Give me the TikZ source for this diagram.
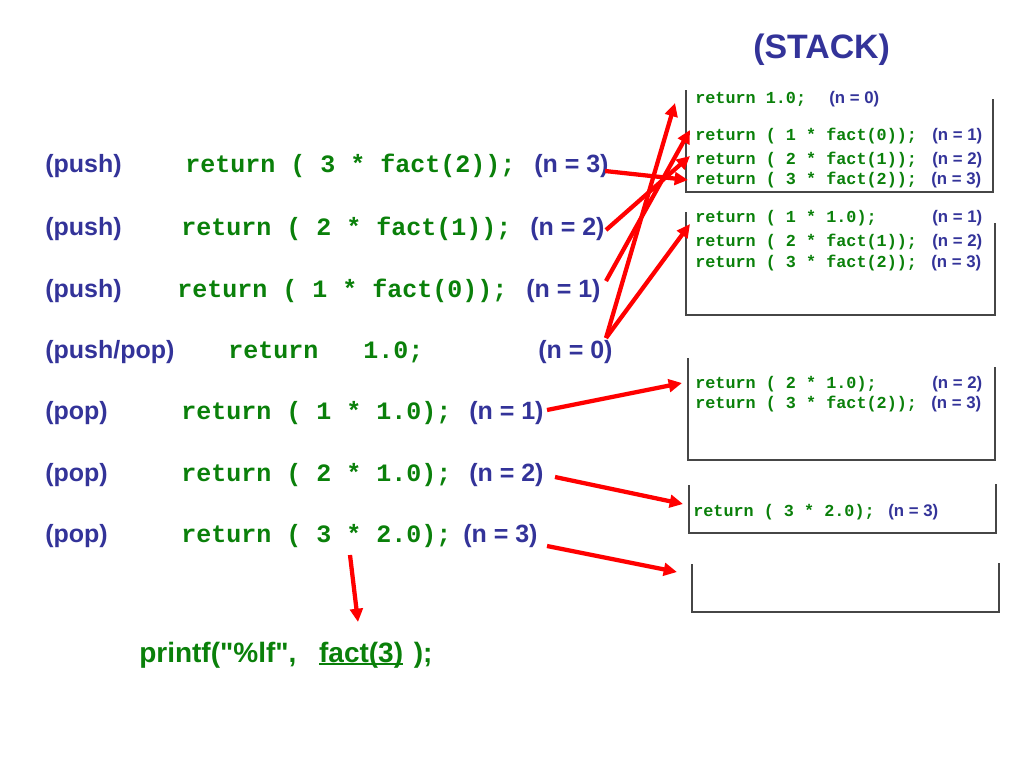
\documentclass[tikz,border=0pt]{standalone}
\usepackage{fontspec}
\setmainfont{Liberation Sans}
\newfontfamily\codefont{Liberation Mono}
\newfontfamily\pffont[Ligatures=TeXOff]{Liberation Sans}
\usetikzlibrary{arrows.meta}
\definecolor{navy}{RGB}{51,51,153}
\definecolor{codegreen}{RGB}{10,128,10}
\definecolor{arrred}{RGB}{255,0,0}
\definecolor{boxgray}{RGB}{70,70,70}
\newcommand\myul[1]{\setbox0\hbox{#1}\rlap{\rule[-2.4pt]{\wd0}{1.4pt}}\box0}
\begin{document}
\begin{tikzpicture}[x=0.75pt,y=-0.75pt,
  lbl/.style={anchor=base west, inner sep=0pt, text=navy, font=\fontsize{18.75}{20}\selectfont\bfseries},
  code/.style={anchor=base west, inner sep=0pt, text=codegreen, font=\fontsize{18.75}{20}\selectfont\codefont\bfseries},
  slbl/.style={anchor=base west, inner sep=0pt, text=navy, font=\fontsize{12.6}{14}\selectfont\bfseries},
  scode/.style={anchor=base west, inner sep=0pt, text=codegreen, font=\fontsize{12.6}{14}\selectfont\codefont\bfseries},
  arr/.style={draw=arrred, line width=3.2pt, -{Triangle[length=10pt,width=9.5pt]}},
  stackbox/.style={draw=boxgray, line width=1.4pt},
]
\useasboundingbox (0,0) rectangle (1024,768);

% title
\node[anchor=base west, inner sep=0pt, text=navy, font=\fontsize{25.4}{28}\selectfont\bfseries] (stack) at (753,58) {(STACK)};

% left column
\node[lbl] (op1) at (45,172) {(push)};
\node[code] (code1) at (185,172) {return ( 3 * fact(2));};
\node[lbl] (nv1) at (534,172) {(n = 3)};

\node[lbl] (op2) at (45,235) {(push)};
\node[code] (code2) at (181,235) {return ( 2 * fact(1));};
\node[lbl] (nv2) at (530,235) {(n = 2)};

\node[lbl] (op3) at (45,297) {(push)};
\node[code] (code3) at (177,297) {return ( 1 * fact(0));};
\node[lbl] (nv3) at (526,297) {(n = 1)};

\node[lbl] (op4) at (45,358) {(push/pop)};
\node[code] (code4) at (228,358) {return~~~1.0;};
\node[lbl] (nv4) at (538,358) {(n = 0)};

\node[lbl] (op5) at (45,419) {(pop)};
\node[code] (code5) at (181,419) {return ( 1 * 1.0);};
\node[lbl] (nv5) at (469,419) {(n = 1)};

\node[lbl] (op6) at (45,481) {(pop)};
\node[code] (code6) at (181,481) {return ( 2 * 1.0);};
\node[lbl] (nv6) at (469,481) {(n = 2)};

\node[lbl] (op7) at (45,542) {(pop)};
\node[code] (code7) at (181,542) {return ( 3 * 2.0);};
\node[lbl] (nv7) at (463,542) {(n = 3)};

\node[anchor=base west, inner sep=0pt, text=codegreen, font=\fontsize{21}{24}\selectfont\pffont\bfseries] (pf) at (139,662) {printf("\%lf",\hspace{17pt}\myul{fact(3)}\hspace{8pt});};
\coordinate (dtip) at (358,622);

% stack boxes
\draw[stackbox] (686,90) -- (686,192) -- (993,192) -- (993,99);
\draw[stackbox] (686,212) -- (686,315) -- (995,315) -- (995,223);
\draw[stackbox] (688,358) -- (688,460) -- (995,460) -- (995,367);
\draw[stackbox] (689,485) -- (689,533) -- (996,533) -- (996,484);
\draw[stackbox] (692,564) -- (692,612) -- (999,612) -- (999,563);
\coordinate (b5) at (692,564);

% box 1
\node[scode] (s10) at (695,103) {return 1.0;};
\node[slbl] (s10n) at (829,103) {(n = 0)};
\node[scode] (s11) at (695,140) {return ( 1 * fact(0));};
\node[slbl] (s11n) at (932,140) {(n = 1)};
\node[scode] (s12) at (695,164) {return ( 2 * fact(1));};
\node[slbl] (s12n) at (932,164) {(n = 2)};
\node[scode] (s13) at (695,184) {return ( 3 * fact(2));};
\node[slbl] (s13n) at (931,184) {(n = 3)};

% box 2
\node[scode] (s21) at (695,222) {return ( 1 * 1.0);};
\node[slbl] (s21n) at (932,222) {(n = 1)};
\node[scode] (s22) at (695,246) {return ( 2 * fact(1));};
\node[slbl] (s22n) at (932,246) {(n = 2)};
\node[scode] (s23) at (695,267) {return ( 3 * fact(2));};
\node[slbl] (s23n) at (931,267) {(n = 3)};

% box 3
\node[scode] (s31) at (695,388) {return ( 2 * 1.0);};
\node[slbl] (s31n) at (932,388) {(n = 2)};
\node[scode] (s32) at (695,408) {return ( 3 * fact(2));};
\node[slbl] (s32n) at (931,408) {(n = 3)};

% box 4
\node[scode] (s41) at (693,516) {return ( 3 * 2.0);};
\node[slbl] (s41n) at (888,516) {(n = 3)};

% arrows
\draw[arr] ([shift={(71,-1)}]nv1.base west) -- ([shift={(-7,-4)}]s13.base west);
\draw[arr] ([shift={(76,-5)}]nv2.base west) -- ([shift={(-5,-8)}]s12.base west);
\draw[arr] ([shift={(80,-16)}]nv3.base west) -- ([shift={(-5,-10)}]s11.base west);
\draw[arr] ([shift={(68,-20)}]nv4.base west) -- ([shift={(-20,0)}]s10.base west);
\draw[arr] ([shift={(68,-20)}]nv4.base west) -- ([shift={(-5,2)}]s21.base west);
\draw[arr] ([shift={(78,-9)}]nv5.base west) -- ([shift={(-13,-5)}]s31.base west);
\draw[arr] ([shift={(86,-4)}]nv6.base west) -- ([shift={(-10,-12)}]s41.base west);
\draw[arr] ([shift={(84,4)}]nv7.base west) -- ([shift={(-15,8)}]b5);
\draw[arr] ([shift={(169,13)}]code7.base west) -- (dtip);
\end{tikzpicture}
\end{document}
